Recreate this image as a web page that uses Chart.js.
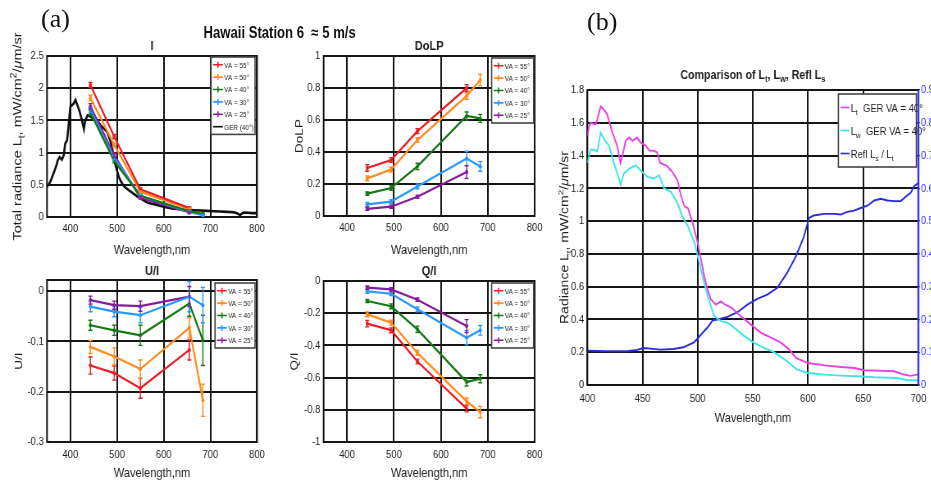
<!DOCTYPE html>
<html>
<head>
<meta charset="utf-8">
<title>Hawaii Station 6</title>
<script src="https://cdn.jsdelivr.net/npm/chart.js@4.4.1/dist/chart.umd.min.js"></script>
<style>
  html, body { margin: 0; padding: 0; background: #fff; overflow: hidden; }
  body { position: relative; width: 931px; height: 484px; }
  /* the original figure uses a narrow sans face: squeeze the whole stage horizontally */
  #stage { position: absolute; left: 0; top: 0; width: 1136px; height: 484px; transform: scaleX(0.82); transform-origin: 0 0; }
  canvas { position: absolute; }
  .tag { position: absolute; font-family: 'Liberation Serif', 'Times New Roman', serif; font-size: 26px; line-height: 26px; color: #111; }
  #head { position: absolute; left: 0; width: 682px; top: 23px; text-align: center; white-space: pre;
          font: bold 16px 'Liberation Sans', Arial, sans-serif; line-height: 20px; color: #111; }
</style>
</head>
<body>
<div id="stage">
  <div id="head">Hawaii Station 6  ≈ 5 m/s</div>
  <canvas id="cI"></canvas>
  <canvas id="cD"></canvas>
  <canvas id="cU"></canvas>
  <canvas id="cQ"></canvas>
  <canvas id="cB"></canvas>
</div>
<div class="tag" style="left:41px;top:6px">(a)</div>
<div class="tag" style="left:587px;top:9px">(b)</div>
<script>
const S = 0.82; // horizontal squeeze of #stage
const FONT = "'Liberation Sans', Arial, sans-serif";
const INK = "#1e1e1e";
const GRID = "#151515";
const BLUE = "#3535ff";

// (a) polarimeter bands
const bands = [443, 494, 550, 655, 684];
const vaLabels = ["VA = 55°", "VA = 50°", "VA = 40°", "VA = 30°", "VA = 25°"];
const vaColors = ["#ec1c24", "#ff8a1e", "#147814", "#2a98ff", "#8a1a9c"];

// total radiance I
const iVA55 = [2.05, 1.25, 0.43, 0.14, null];
const iVA50 = [1.85, 1.12, 0.39, 0.12, null];
const iVA40 = [1.62, 0.87, 0.33, 0.09, 0.05];
const iVA30 = [1.66, 0.92, 0.33, 0.08, 0.03];
const iVA25 = [1.72, 0.96, 0.3, 0.07, null];
const iErr = [0.04, 0.03, 0.02, 0.015, 0.01];

// GER model spectrum (40 deg)
const gerWl = [350, 355, 360, 365, 370, 373, 377, 382, 386, 389, 393, 396, 400, 404, 407, 411, 414, 419, 425, 429, 432, 437, 443, 450, 457, 464, 471, 479, 485, 489, 493, 496, 500, 504, 508, 511, 516, 521, 528, 536, 543, 550, 557, 564, 572, 579, 590, 600, 610, 621, 635, 650, 665, 679, 693, 707, 722, 736, 750, 757, 761, 764, 767, 771, 780, 790, 800];
const gerI = [0.47, 0.52, 0.6, 0.7, 0.8, 0.88, 0.93, 0.89, 0.96, 1.14, 1.19, 1.4, 1.71, 1.74, 1.76, 1.82, 1.76, 1.66, 1.5, 1.37, 1.5, 1.58, 1.56, 1.53, 1.5, 1.43, 1.38, 1.32, 1.2, 1.09, 0.95, 0.83, 0.72, 0.62, 0.56, 0.52, 0.47, 0.44, 0.4, 0.36, 0.32, 0.29, 0.26, 0.23, 0.21, 0.2, 0.18, 0.16, 0.145, 0.13, 0.12, 0.11, 0.105, 0.1, 0.095, 0.09, 0.085, 0.08, 0.075, 0.06, 0.04, 0.03, 0.05, 0.07, 0.065, 0.06, 0.06];

// DoLP
const dVA55 = [0.3, 0.35, 0.53, 0.8, null];
const dVA50 = [0.235, 0.29, 0.475, 0.75, 0.85];
const dVA40 = [0.14, 0.175, 0.31, 0.625, 0.61];
const dVA30 = [0.073, 0.09, 0.185, 0.36, 0.31];
const dVA25 = [0.045, 0.058, 0.12, 0.275, null];
const dErr55 = [0.02, 0.015, 0.015, 0.02, 0];
const dErr50 = [0.015, 0.015, 0.015, 0.02, 0.035];
const dErr40 = [0.01, 0.015, 0.02, 0.025, 0.025];
const dErr30 = [0.012, 0.012, 0.015, 0.045, 0.03];
const dErr25 = [0.01, 0.01, 0.01, 0.04, 0];

// U/I
const uVA55 = [-0.148, -0.163, -0.193, -0.117, null];
const uVA50 = [-0.111, -0.13, -0.155, -0.073, -0.217];
const uVA40 = [-0.068, -0.078, -0.088, -0.025, -0.098];
const uVA30 = [-0.031, -0.041, -0.048, -0.011, -0.028];
const uVA25 = [-0.018, -0.028, -0.03, -0.011, null];
const uErr55 = [0.017, 0.014, 0.02, 0.02, 0];
const uErr50 = [0.013, 0.017, 0.018, 0.02, 0.032];
const uErr40 = [0.01, 0.01, 0.02, 0.025, 0.05];
const uErr30 = [0.01, 0.01, 0.015, 0.03, 0.035];
const uErr25 = [0.008, 0.008, 0.01, 0.02, 0];

// Q/I
const qVA55 = [-0.265, -0.306, -0.5, -0.793, null];
const qVA50 = [-0.207, -0.259, -0.447, -0.747, -0.814];
const qVA40 = [-0.124, -0.157, -0.3, -0.627, -0.607];
const qVA30 = [-0.064, -0.079, -0.176, -0.352, -0.306];
const qVA25 = [-0.041, -0.052, -0.116, -0.28, null];

// (b) comparison of Lt, Lw, Refl Ls
const ltWl = [400, 401.5, 403, 407.5, 409, 412, 415, 418, 419.6, 422.7, 427, 430, 431.7, 434.7, 437.8, 440.8, 445, 448, 453, 456, 460, 463, 466, 472.5, 477, 481.6, 485, 488, 491, 495, 500, 503, 506, 509, 512, 516.5, 521, 525, 531, 539, 548, 557, 566, 575, 583, 589, 600, 615, 630, 642, 651, 660, 678, 687, 693, 700];
const ltVals = [1.52, 1.58, 1.6, 1.59, 1.62, 1.7, 1.68, 1.65, 1.61, 1.54, 1.46, 1.355, 1.395, 1.49, 1.51, 1.49, 1.51, 1.48, 1.46, 1.43, 1.43, 1.42, 1.355, 1.335, 1.3, 1.25, 1.15, 1.09, 1.08, 1.0, 0.867, 0.765, 0.66, 0.58, 0.52, 0.49, 0.51, 0.49, 0.47, 0.42, 0.37, 0.32, 0.29, 0.26, 0.216, 0.165, 0.134, 0.12, 0.11, 0.104, 0.09, 0.088, 0.084, 0.063, 0.056, 0.065];
const lwWl = [400, 403, 406, 409, 412, 415, 419.6, 424, 429, 430, 433, 438, 444, 448, 454.4, 460, 465, 469.5, 475.5, 481.6, 486, 491, 497, 501.5, 504.5, 507.5, 510.5, 515, 521, 527, 533, 542, 551, 560, 569, 581, 590, 600, 615, 630, 645, 660, 681, 690, 700];
const lwVals = [1.355, 1.435, 1.435, 1.425, 1.54, 1.5, 1.46, 1.355, 1.25, 1.22, 1.29, 1.32, 1.34, 1.31, 1.27, 1.26, 1.28, 1.2, 1.18, 1.11, 1.03, 0.97, 0.87, 0.745, 0.66, 0.58, 0.51, 0.42, 0.39, 0.38, 0.35, 0.3, 0.257, 0.226, 0.2, 0.145, 0.094, 0.073, 0.063, 0.057, 0.053, 0.047, 0.043, 0.029, 0.029];
const reflWl = [400, 418, 436, 445, 451, 457, 466, 478, 487, 497, 503, 509, 513.5, 518, 527, 536, 545, 554, 563, 572, 581, 589, 596, 601, 605, 614.5, 623.5, 629.6, 635.6, 641.7, 647.7, 653.8, 660, 666, 672, 678, 684, 689, 693, 696, 700];
const reflVals = [0.105, 0.103, 0.103, 0.107, 0.113, 0.111, 0.108, 0.11, 0.115, 0.131, 0.154, 0.176, 0.197, 0.2, 0.208, 0.222, 0.245, 0.263, 0.276, 0.296, 0.342, 0.393, 0.45, 0.51, 0.517, 0.522, 0.522, 0.52, 0.528, 0.532, 0.54, 0.547, 0.563, 0.568, 0.563, 0.561, 0.561, 0.576, 0.586, 0.606, 0.617];

// ticks
const xTicksA = [400, 500, 600, 700, 800];
const yTicksI = [0, 0.5, 1, 1.5, 2, 2.5];
const yTicksD = [0, 0.2, 0.4, 0.6, 0.8, 1];
const yTicksU = [-0.3, -0.2, -0.1, 0];
const yTicksQ = [-1, -0.8, -0.6, -0.4, -0.2, 0];
const xTicksB = [400, 450, 500, 550, 600, 650, 700];
const yTicksB = [0, 0.2, 0.4, 0.6, 0.8, 1, 1.2, 1.4, 1.6, 1.8];
const yTicksB2 = [0, 0.1, 0.2, 0.3, 0.4, 0.5, 0.6, 0.7, 0.8, 0.9];

Chart.defaults.font.family = FONT;

const zip = (xs, ys) => xs.map((x, i) => ({ x, y: ys[i] }));
const fmt = (v) => String(Math.round(v * 100) / 100);

// places a canvas from page pixels (box) and returns the matching layout numbers
function place(id, b, rightAxis) {
  const c = document.getElementById(id);
  const cw = Math.round(b.w / S);
  c.width = cw;
  c.height = b.h;
  c.style.left = b.left / S + "px";
  c.style.top = b.top + "px";
  const inner = (b.R - b.left) / S;
  return {
    canvas: c,
    yW: (b.L - b.left) / S,
    padTop: b.T - b.top,
    padRight: rightAxis ? 0 : cw - inner,
    rightW: cw - inner,
    xH: b.top + b.h - b.B
  };
}

// text with sub/superscripts: parts = [[text, "sub"|"sup"|"it"]]
function drawRich(ctx, parts, x, cy, size, weight, color, align) {
  ctx.save();
  ctx.fillStyle = color;
  ctx.textBaseline = "alphabetic";
  ctx.textAlign = "left";
  const fonts = parts.map((p) => {
    const small = p[1] === "sub" || p[1] === "sup";
    return (p[1] === "it" ? "italic " : "") + weight + " " + (small ? size * 0.7 : size) + "px " + FONT;
  });
  const widths = parts.map((p, i) => {
    ctx.font = fonts[i];
    return ctx.measureText(p[0]).width;
  });
  const total = widths.reduce((a, b) => a + b, 0);
  let cx = align === "left" ? x : x - total / 2;
  const base = cy + size * 0.36;
  parts.forEach((p, i) => {
    ctx.font = fonts[i];
    const dy = p[1] === "sub" ? size * 0.28 : p[1] === "sup" ? -size * 0.42 : 0;
    ctx.fillText(p[0], cx, base + dy);
    cx += widths[i];
  });
  ctx.restore();
}

function drawErrBars(chart) {
  const ctx = chart.ctx;
  chart.data.datasets.forEach((ds, di) => {
    if (!ds.errs) return;
    const meta = chart.getDatasetMeta(di);
    const ys = chart.scales[meta.yAxisID];
    ctx.save();
    ctx.strokeStyle = ds.borderColor;
    ctx.lineWidth = 1.4;
    ds.data.forEach((p, i) => {
      const e = ds.errs[i];
      if (!e) return;
      const x = meta.data[i].x;
      const y1 = ys.getPixelForValue(p.y - e);
      const y2 = ys.getPixelForValue(p.y + e);
      ctx.beginPath();
      ctx.moveTo(x, y1); ctx.lineTo(x, y2);
      ctx.moveTo(x - 2.5, y1); ctx.lineTo(x + 2.5, y1);
      ctx.moveTo(x - 2.5, y2); ctx.lineTo(x + 2.5, y2);
      ctx.stroke();
    });
    ctx.restore();
  });
}

function drawLegend(chart, L) {
  const { ctx, chartArea: a } = chart;
  const sets = chart.data.datasets;
  const h = sets.length * L.rowH + 2 * L.pad;
  const x0 = a.right - L.right - L.w;
  const y0 = a.top + L.top;
  ctx.save();
  ctx.fillStyle = "#fff";
  ctx.fillRect(x0, y0, L.w, h);
  ctx.strokeStyle = "#444";
  ctx.lineWidth = 1.6;
  ctx.strokeRect(x0, y0, L.w, h);
  sets.forEach((ds, i) => {
    const y = y0 + L.pad + L.rowH * (i + 0.5);
    const xs = x0 + 2.5;
    ctx.strokeStyle = ds.borderColor;
    ctx.lineWidth = 1.6;
    ctx.beginPath();
    ctx.moveTo(xs, y); ctx.lineTo(xs + L.line, y);
    if (ds.errs) {
      ctx.moveTo(xs + L.line / 2, y - L.tick);
      ctx.lineTo(xs + L.line / 2, y + L.tick);
    }
    ctx.stroke();
    const parts = L.parts ? L.parts[i] : [[ds.label]];
    drawRich(ctx, parts, xs + L.line + 1.5, y, L.size, "normal", INK, "left");
  });
  ctx.restore();
}

function deco(o) {
  return {
    id: "deco",
    beforeDatasetsDraw(chart) {
      const { ctx, chartArea: a } = chart;
      ctx.save();
      ctx.strokeStyle = GRID;
      ctx.lineWidth = 2;
      ctx.strokeRect(a.left, a.top, a.right - a.left, a.bottom - a.top);
      ctx.restore();
    },
    afterDatasetsDraw(chart) {
      drawErrBars(chart);
      if (o.legend) drawLegend(chart, o.legend);
    },
    afterDraw(chart) {
      const { ctx, chartArea: a } = chart;
      if (o.title) drawRich(ctx, o.title, (a.left + a.right) / 2, a.top - o.titleGap, o.titleSize, "bold", INK, "center");
      if (o.yRich) {
        ctx.save();
        ctx.translate((o.yRichX - o.box.left) / S, (a.top + a.bottom) / 2);
        ctx.rotate(-Math.PI / 2);
        drawRich(ctx, o.yRich, 0, 0, o.yRichSize, "normal", INK, "center");
        ctx.restore();
      }
      if (o.rightColor) {
        ctx.save();
        ctx.strokeStyle = o.rightColor;
        ctx.lineWidth = 2.4;
        ctx.beginPath();
        ctx.moveTo(a.right, a.top); ctx.lineTo(a.right, a.bottom);
        ctx.stroke();
        ctx.restore();
      }
    }
  };
}

function axisX(min, max, ticks, h, tickPad, titlePad) {
  return {
    type: "linear", min, max,
    afterBuildTicks: (s) => { s.ticks = ticks.map((v) => ({ value: v })); },
    afterFit: (s) => { s.height = h; },
    grid: { color: GRID, lineWidth: 2, drawTicks: false },
    border: { display: false },
    ticks: { font: { size: 11.5 }, color: INK, padding: tickPad, maxRotation: 0, autoSkip: false, callback: (v) => fmt(v) },
    title: { display: true, text: "Wavelength,nm", color: INK, font: { size: 13.5 }, padding: { top: 0, bottom: titlePad } }
  };
}

function axisY(min, max, ticks, w, title, titlePad) {
  return {
    type: "linear", min, max,
    afterBuildTicks: (s) => { s.ticks = ticks.map((v) => ({ value: v })); },
    afterFit: (s) => { s.width = w; },
    grid: { color: GRID, lineWidth: 2, drawTicks: false },
    border: { display: false },
    ticks: { font: { size: 11.5 }, color: INK, padding: 4, autoSkip: false, callback: (v) => fmt(v) },
    title: { display: !!title, text: title || "", color: INK, font: { size: 13.5 }, padding: { top: titlePad, bottom: 0 } }
  };
}

function panelA(id, o) {
  const g = place(id, o.box, false);
  const datasets = o.series.map((vals, k) => {
    const keep = bands.map((b, i) => i).filter((i) => vals[i] !== null);
    return {
      label: vaLabels[k],
      data: keep.map((i) => ({ x: bands[i], y: vals[i] })),
      errs: keep.map((i) => o.errs[k][i]),
      borderColor: vaColors[k],
      backgroundColor: vaColors[k],
      borderWidth: 2.2,
      pointRadius: 2,
      pointBorderWidth: 0,
      tension: 0
    };
  });
  if (o.extra) datasets.push(o.extra);
  return new Chart(g.canvas, {
    type: "line",
    data: { datasets },
    options: {
      responsive: false, animation: false, devicePixelRatio: 1, events: [],
      layout: { padding: { left: 0, top: g.padTop, right: g.padRight, bottom: 0 } },
      plugins: { legend: { display: false }, tooltip: { enabled: false } },
      scales: {
        x: axisX(350, 800, xTicksA, g.xH, o.xPad, o.xTitlePad),
        y: axisY(o.yMin, o.yMax, o.yTicks, g.yW, o.yTitle, (o.yTitleX - o.box.left) / S - 8.1)
      }
    },
    plugins: [deco(o)]
  });
}

const smallLegend = (w, right, top) => ({ w: w / S, right: right / S, top, rowH: 12.4, pad: 1.5, line: 12, tick: 3, size: 7.8 });

panelA("cI", {
  box: { left: 0, top: 0, w: 275, h: 262, L: 47, T: 56, R: 257, B: 217 },
  series: [iVA55, iVA50, iVA40, iVA30, iVA25],
  errs: [iErr, iErr, iErr, iErr, iErr],
  extra: { label: "GER (40°)", data: zip(gerWl, gerI), borderColor: "#101010", backgroundColor: "#101010", borderWidth: 2.6, pointRadius: 0 },
  xPad: 5, xTitlePad: 4,
  yMin: 0, yMax: 2.5, yTicks: yTicksI, yTitle: null, yTitleX: 17,
  yRich: [["Total radiance L"], ["t", "sub"], [", mW/cm"], ["2", "sup"], ["/"], ["μ", "it"], ["m/sr"]],
  yRichX: 17, yRichSize: 14.5,
  title: [["I"]], titleGap: 11, titleSize: 13.5,
  legend: smallLegend(44, 2, 1)
});

panelA("cD", {
  box: { left: 280, top: 0, w: 275, h: 262, L: 324, T: 56, R: 535, B: 216 },
  series: [dVA55, dVA50, dVA40, dVA30, dVA25],
  errs: [dErr55, dErr50, dErr40, dErr30, dErr25],
  xPad: 5, xTitlePad: 4,
  yMin: 0, yMax: 1, yTicks: yTicksD, yTitle: "DoLP", yTitleX: 300,
  title: [["DoLP"]], titleGap: 11, titleSize: 13.5,
  legend: smallLegend(42, 1, 2)
});

panelA("cU", {
  box: { left: 0, top: 262, w: 275, h: 222, L: 47, T: 280, R: 257, B: 442 },
  series: [uVA55, uVA50, uVA40, uVA30, uVA25],
  errs: [uErr55, uErr50, uErr40, uErr30, uErr25],
  xPad: 6, xTitlePad: 3,
  yMin: -0.3, yMax: 0.022, yTicks: yTicksU, yTitle: "U/I", yTitleX: 19,
  title: [["U/I"]], titleGap: 10, titleSize: 13.5,
  legend: smallLegend(40, 2, 3)
});

panelA("cQ", {
  box: { left: 280, top: 262, w: 275, h: 222, L: 324, T: 281, R: 535, B: 442 },
  series: [qVA55, qVA50, qVA40, qVA30, qVA25],
  errs: [dErr55, dErr50, dErr40, dErr30, dErr25],
  xPad: 6, xTitlePad: 3,
  yMin: -1, yMax: 0, yTicks: yTicksQ, yTitle: "Q/I", yTitleX: 295,
  title: [["Q/I"]], titleGap: 11, titleSize: 13.5,
  legend: smallLegend(42, 1, 2)
});

const boxB = { left: 540, top: 0, w: 394, h: 484, L: 587, T: 90, R: 918, B: 385 };
const gB = place("cB", boxB, true);
new Chart(gB.canvas, {
  type: "line",
  data: {
    datasets: [
      { label: "Lt GER VA = 40°", data: zip(ltWl, ltVals), borderColor: "#e940e6", borderWidth: 1.9, pointRadius: 0, yAxisID: "y" },
      { label: "Lw GER VA = 40°", data: zip(lwWl, lwVals), borderColor: "#3ee6e6", borderWidth: 1.9, pointRadius: 0, yAxisID: "y" },
      { label: "Refl Ls / Lt", data: zip(reflWl, reflVals), borderColor: "#2b2bdb", borderWidth: 1.9, pointRadius: 0, yAxisID: "y1" }
    ]
  },
  options: {
    responsive: false, animation: false, devicePixelRatio: 1, events: [],
    layout: { padding: { left: 0, top: gB.padTop, right: 0, bottom: 0 } },
    plugins: { legend: { display: false }, tooltip: { enabled: false } },
    scales: {
      x: axisX(400, 700, xTicksB, gB.xH, 7, 58),
      y: axisY(0, 1.8, yTicksB, gB.yW, null, 0),
      y1: {
        type: "linear", position: "right", min: 0, max: 0.9,
        afterBuildTicks: (s) => { s.ticks = yTicksB2.map((v) => ({ value: v })); },
        afterFit: (s) => { s.width = gB.rightW; },
        grid: { drawOnChartArea: false, drawTicks: true, tickLength: 2, color: BLUE, lineWidth: 1.3 },
        border: { display: false },
        ticks: { font: { size: 11.5 }, color: BLUE, padding: 1, autoSkip: false, callback: (v) => fmt(v) }
      }
    }
  },
  plugins: [deco({
    box: boxB,
    title: [["Comparison of L"], ["t", "sub"], [", L"], ["w", "sub"], [", Refl L"], ["s", "sub"]],
    titleGap: 16, titleSize: 13,
    yRich: [["Radiance L"], ["t", "sub"], [", mW/cm"], ["2", "sup"], ["/"], ["μ", "it"], ["m/sr"]],
    yRichX: 564, yRichSize: 14,
    rightColor: BLUE,
    legend: {
      w: 78 / S, right: 2 / S, top: 4, rowH: 23, pad: 2, line: 11, tick: 0, size: 11.5,
      parts: [
        [["L"], ["t", "sub"], ["  GER VA = 40°"]],
        [["L"], ["w", "sub"], ["  GER VA = 40°"]],
        [["Refl L"], ["s", "sub"], [" / L"], ["t", "sub"]]
      ]
    }
  })]
});
</script>
</body>
</html>
